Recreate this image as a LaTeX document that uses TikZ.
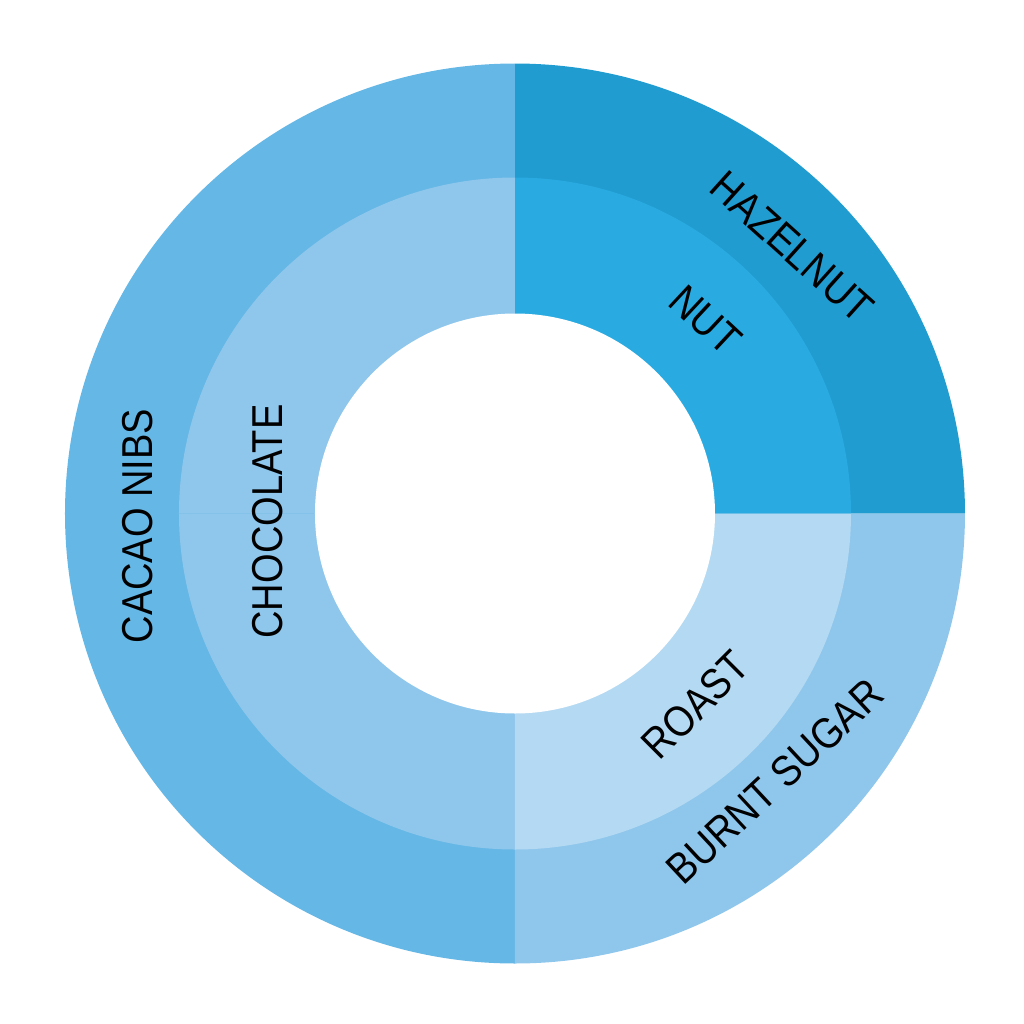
\documentclass[tikz,border=0pt]{standalone}
\usepackage{fontspec}
\newfontfamily\labelfont[FakeStretch=0.88]{Liberation Sans}
\definecolor{nutouter}{HTML}{219CD0}
\definecolor{nutinner}{HTML}{29ABE2}
\definecolor{chocouter}{HTML}{65B7E6}
\definecolor{chocinner}{HTML}{8FC6EC}
\definecolor{roastouter}{HTML}{8FC6EC}
\definecolor{roastinner}{HTML}{B4D9F2}

\begin{document}
\begin{tikzpicture}[
    flavour/.style={inner sep=0pt, font=\labelfont\fontsize{12.3}{14}\selectfont, text=black},
    sector/.style={draw=none}
]
\useasboundingbox (-5.15,-5.105) rectangle (5.09,5.135);

% Outer ring
\fill[sector, nutouter] (0,0) -- (0:4.5) arc[start angle=0, end angle=90, radius=4.5] -- cycle;
\fill[sector, chocouter] (0,0) -- (90:4.5) arc[start angle=90, end angle=270, radius=4.5] -- cycle;
\fill[sector, roastouter] (0,0) -- (270:4.5) arc[start angle=270, end angle=360, radius=4.5] -- cycle;

% Inner ring
\fill[sector, nutinner] (0,0) -- (0:3.36) arc[start angle=0, end angle=90, radius=3.36] -- cycle;
\fill[sector, chocinner] (0,0) -- (90:3.36) arc[start angle=90, end angle=180, radius=3.36] -- cycle;
\fill[sector, chocinner] (0,0) -- (180:3.36) arc[start angle=180, end angle=270, radius=3.36] -- cycle;
\fill[sector, roastinner] (0,0) -- (270:3.36) arc[start angle=270, end angle=360, radius=3.36] -- cycle;

% Hole
\fill[white] (0,0) circle[radius=2.0];

% Labels
\node[flavour, rotate=-42] (Hazelnut) at (2.77,2.665) {HAZELNUT};
\node[flavour, rotate=-43] (Nut) at (1.905,1.935) {NUT};
\node[flavour, rotate=90] (CacaoNibs) at (-3.775,-0.125) {CACAO NIBS};
\node[flavour, rotate=90] (Chocolate) at (-2.475,-0.08) {CHOCOLATE};
\node[flavour, rotate=45] (Roast) at (1.805,-1.915) {ROAST};
\node[flavour, rotate=43] (BurntSugar) at (2.60,-2.68) {BURNT SUGAR};

\end{tikzpicture}
\end{document}
